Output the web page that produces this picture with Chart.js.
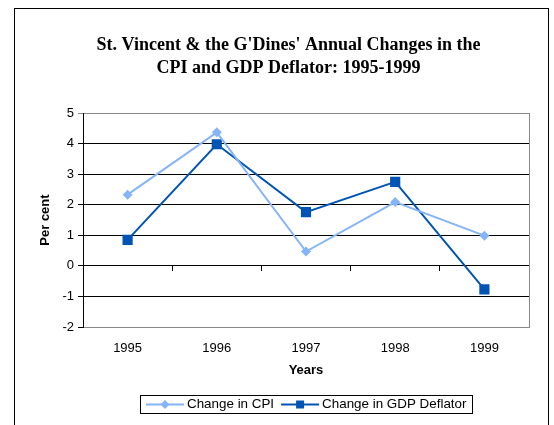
<!DOCTYPE html>
<html>
<head>
<meta charset="utf-8">
<script src="https://cdn.jsdelivr.net/npm/chart.js@4/dist/chart.umd.min.js"></script>
<style>
  html, body { margin: 0; padding: 0; background: #fff; }
  #wrap { position: relative; width: 554px; height: 425px; }
  #frame { position: absolute; left: 14px; top: 8px; width: 535px; height: 430px; border: 1px solid #000; box-sizing: border-box; pointer-events: none; }
  canvas { position: absolute; left: 0; top: 0; }
</style>
</head>
<body>
<div id="wrap">
  <canvas id="c" width="554" height="425"></canvas>
  <div id="frame"></div>
</div>
<script>
const categories = ['1995', '1996', '1997', '1998', '1999'];
const cpiValues = [2.33, 4.37, 0.47, 2.09, 0.99];
const deflatorValues = [0.85, 3.98, 1.76, 2.75, -0.77];
const seriesNames = ['Change in CPI', 'Change in GDP Deflator'];
const titleLines = ["St. Vincent & the G'Dines' Annual Changes in the", 'CPI and GDP Deflator: 1995-1999'];
const yTicks = [-2, -1, 0, 1, 2, 3, 4, 5];

const CPI_COLOR = '#86b4f8';
const GDP_COLOR = '#0055b4';
const SANS = '"Liberation Sans", Arial, sans-serif';

const framePlugin = {
  id: 'frame',
  beforeDatasetsDraw(chart) {
    const a = chart.chartArea, ctx = chart.ctx;
    ctx.save();
    ctx.strokeStyle = '#8a8a8a';
    ctx.lineWidth = 1;
    ctx.strokeRect(Math.round(a.left) + 0.5, Math.round(a.top) + 0.5, Math.round(a.right - a.left), Math.round(a.bottom - a.top));
    ctx.strokeStyle = '#000';
    ctx.beginPath();
    ctx.moveTo(Math.round(a.left) + 0.5, a.top);
    ctx.lineTo(Math.round(a.left) + 0.5, a.bottom + 1);
    ctx.stroke();
    ctx.restore();
  },
  afterLayout(chart) {
    if (chart.titleBlock) { chart.titleBlock.left += 5; chart.titleBlock.right += 5; }
  }
};

const legendPlugin = {
  id: 'boxLegend',
  afterDraw(chart) {
    const ctx = chart.ctx;
    ctx.save();
    ctx.font = '13.4px ' + SANS;
    const lineLen = 38, gap = 3, itemGap = 7, padX = 6;
    const ds = chart.data.datasets;
    let total = padX * 2;
    const widths = ds.map(d => lineLen + gap + ctx.measureText(d.label).width);
    total += widths.reduce((s, w) => s + w, 0) + itemGap * (ds.length - 1);
    const cx = 306, top = 395, h = 18;
    const left = Math.round(cx - total / 2);
    ctx.strokeStyle = '#000';
    ctx.lineWidth = 1;
    ctx.strokeRect(left + 0.5, top + 0.5, Math.round(total), h);
    let x = left + padX;
    const cy = top + h / 2 + 0.5;
    ds.forEach((d, i) => {
      ctx.strokeStyle = d.borderColor;
      ctx.lineWidth = 2;
      ctx.beginPath();
      ctx.moveTo(x, cy);
      ctx.lineTo(x + lineLen, cy);
      ctx.stroke();
      ctx.fillStyle = d.pointBackgroundColor;
      const mx = x + lineLen / 2;
      if (d.pointStyle === 'rect') {
        ctx.fillRect(mx - 4, cy - 4, 8, 8);
      } else {
        ctx.beginPath();
        ctx.moveTo(mx, cy - 4.5); ctx.lineTo(mx + 4.5, cy); ctx.lineTo(mx, cy + 4.5); ctx.lineTo(mx - 4.5, cy); ctx.closePath();
        ctx.fill();
      }
      ctx.fillStyle = '#000';
      ctx.textBaseline = 'middle';
      ctx.fillText(d.label, x + lineLen + gap, cy);
      x += widths[i] + itemGap;
    });
    ctx.restore();
  }
};

new Chart(document.getElementById('c'), {
  type: 'line',
  data: {
    labels: categories,
    datasets: [
      {
        label: seriesNames[0], data: cpiValues,
        borderColor: CPI_COLOR, backgroundColor: CPI_COLOR,
        pointBackgroundColor: CPI_COLOR, pointBorderColor: CPI_COLOR,
        pointStyle: 'rectRot', pointRadius: 5, pointBorderWidth: 0,
        borderWidth: 2, tension: 0, xAxisID: 'x', yAxisID: 'y'
      },
      {
        label: seriesNames[1], data: deflatorValues,
        borderColor: GDP_COLOR, backgroundColor: GDP_COLOR,
        pointBackgroundColor: GDP_COLOR, pointBorderColor: GDP_COLOR,
        pointStyle: 'rect', pointRadius: 7.2, pointBorderWidth: 0,
        borderWidth: 2, tension: 0, xAxisID: 'x', yAxisID: 'y'
      }
    ]
  },
  options: {
    responsive: false,
    animation: false,
    devicePixelRatio: 1,
    layout: { padding: { left: 38, right: 25, top: 0, bottom: 47 } },
    plugins: {
      legend: { display: false },
      tooltip: { enabled: false },
      title: {
        display: true,
        text: titleLines,
        color: '#000',
        font: { family: '"Liberation Serif", "Times New Roman", serif', size: 18, weight: 'bold', lineHeight: 1.28 },
        padding: { top: 34, bottom: 33 }
      }
    },
    scales: {
      x: {
        type: 'category',
        position: 'bottom',
        offset: true,
        grid: { display: false, drawTicks: false },
        border: { display: false },
        ticks: { color: '#000', font: { family: SANS, size: 13 }, padding: 14, maxRotation: 0 },
        title: { display: true, text: 'Years', color: '#000', font: { family: SANS, size: 13, weight: 'bold' }, padding: { top: 6, bottom: 0 } },
        afterFit(s) { s.height = 51; }
      },
      x0: {
        type: 'category',
        labels: categories,
        position: { y: 0 },
        offset: true,
        grid: { display: true, drawOnChartArea: false, drawTicks: true, tickLength: 5, offset: true, color: '#000' },
        border: { display: true, color: '#000', width: 1 },
        ticks: { display: false }
      },
      y: {
        min: -2, max: 5,
        afterBuildTicks(s) { s.ticks = yTicks.map(v => ({ value: v })); },
        grid: {
          color: (c) => (c.tick && c.tick.value === 5) ? '#8a8a8a' : '#000',
          lineWidth: 1, drawTicks: true, tickLength: 5
        },
        border: { display: true, color: '#000' },
        ticks: { color: '#000', font: { family: SANS, size: 13 }, padding: 4 },
        title: { display: true, text: 'Per cent', color: '#000', font: { family: SANS, size: 13, weight: 'bold' }, padding: { top: 0, bottom: 4 } },
        afterFit(s) { s.width = 45; }
      }
    }
  },
  plugins: [framePlugin, legendPlugin]
});
</script>
</body>
</html>
